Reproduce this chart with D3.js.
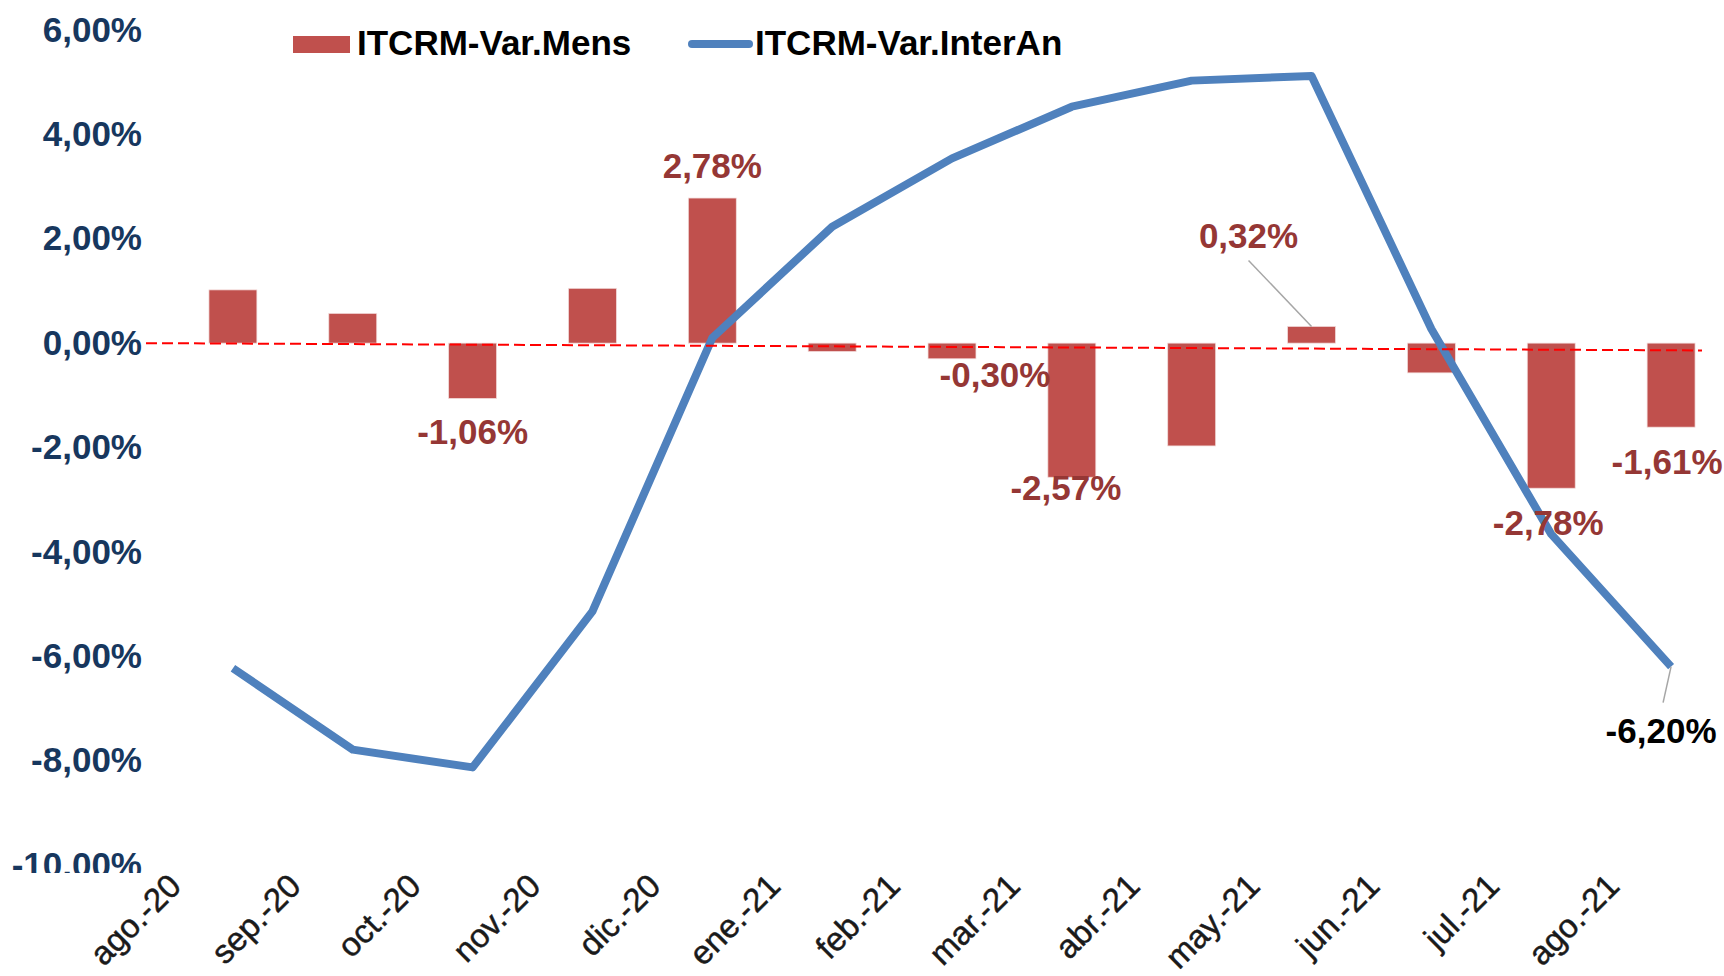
<!DOCTYPE html>
<html>
<head>
<meta charset="utf-8">
<script src="https://cdn.jsdelivr.net/npm/d3@7"></script>
<style>
  html, body { margin: 0; padding: 0; background: #fff; }
  svg { display: block; font-family: "Liberation Sans", Arial, sans-serif; }
</style>
</head>
<body>
<div id="chart"></div>
<script>
const months = ['ago.-20', 'sep.-20', 'oct.-20', 'nov.-20', 'dic.-20', 'ene.-21', 'feb.-21',
  'mar.-21', 'abr.-21', 'may.-21', 'jun.-21', 'jul.-21', 'ago.-21'];
const varMens = [1.02, 0.57, -1.06, 1.05, 2.78, -0.16, -0.30, -2.57, -1.97, 0.32, -0.57, -2.78, -1.61];
const varInterAn = [-6.23, -7.79, -8.13, -5.14, 0.10, 2.23, 3.54, 4.53, 5.03, 5.12, 0.27, -3.66, -6.20];
const yTicks = [6, 4, 2, 0, -2, -4, -6, -8, -10];
const refLine = [0.0, -0.14];           // red dashed reference, start / end value
const seriesNames = ['ITCRM-Var.Mens', 'ITCRM-Var.InterAn'];

// which bars carry a value label, and where it sits relative to the bar end
const barLabels = [
  {i: 2, dx: 0, dy: 46},
  {i: 4, dx: 0, dy: -20},
  {i: 6, dx: 43, dy: 28},
  {i: 7, dx: -6, dy: 23},
  {i: 9, dx: -63, dy: -78, leader: true},
  {i: 11, dx: -3, dy: 47},
  {i: 12, dx: -4, dy: 47},
];
const lineLabels = [{i: 12, dx: -10, dy: 76, leader: true}];

const W = 1724, H = 976;
const colBar = '#C0504D', colLine = '#4F81BD', colBarLbl = '#953735', colAxis = '#17375E';

const loc = d3.formatLocale({decimal: ',', thousands: '.', grouping: [3], currency: ['', ''], minus: '-'});
const pct = v => loc.format('.2f')(v) + '%';

const svg = d3.select('#chart').append('svg')
  .attr('width', W)
  .attr('height', H);

const x = d3.scaleBand()
  .domain(months)
  .range([173, 1731])
  .paddingInner(0.6)
  .paddingOuter(0.3);

const y = d3.scaleLinear()
  .domain([-10, 6])
  .range([865, 30]);

const step = x.step();
const cx = m => x(m) + x.bandwidth() / 2;

svg.append('clipPath').attr('id', 'clip')
  .append('rect').attr('x', 0).attr('y', 0).attr('width', W).attr('height', 873);

// y axis
const yAxis = svg.append('g')
  .attr('clip-path', 'url(#clip)')
  .append('g')
  .attr('transform', 'translate(142,0)')
  .call(d3.axisLeft(y).tickValues(yTicks).tickSize(0).tickPadding(0).tickFormat(pct));
yAxis.select('.domain').remove();
yAxis.selectAll('text')
  .attr('fill', colAxis)
  .style('font-family', '"Liberation Sans", Arial, sans-serif')
  .style('font-size', '35px')
  .style('font-weight', 'bold');

// x labels, rotated
svg.append('g').selectAll('text')
  .data(months)
  .enter().append('text')
    .attr('transform', d => `translate(${cx(d) - step / 2 + 10},888) rotate(-45)`)
    .attr('text-anchor', 'end')
    .style('font-size', '33px')
    .attr('fill', '#1a1a1a')
    .attr('stroke', '#1a1a1a')
    .attr('stroke-width', 0.5)
    .text(d => d);

// bars
svg.append('g').selectAll('rect')
  .data(varMens)
  .enter().append('rect')
    .attr('x', (d, i) => x(months[i]))
    .attr('y', d => y(Math.max(0, d)))
    .attr('width', x.bandwidth())
    .attr('height', d => Math.abs(y(d) - y(0)))
    .attr('fill', colBar)
    .attr('stroke', '#F2DCDB')
    .attr('stroke-width', 0.75);

// interannual line
const line = d3.line()
  .x((d, i) => cx(months[i]))
  .y(d => y(d));

svg.append('path')
  .datum(varInterAn)
  .attr('d', line)
  .attr('fill', 'none')
  .attr('stroke', colLine)
  .attr('stroke-width', 8)
  .attr('stroke-linejoin', 'round');

// red dashed reference line
svg.append('line')
  .attr('x1', x.range()[0] - 27)
  .attr('x2', x.range()[1] - 29)
  .attr('y1', y(refLine[0]))
  .attr('y2', y(refLine[1]))
  .attr('stroke', '#FF0000')
  .attr('stroke-width', 2)
  .attr('stroke-dasharray', '11,5');

// bar value labels
const lbl = svg.append('g');
barLabels.forEach(b => {
  const bx = cx(months[b.i]);
  const by = y(varMens[b.i]);
  if (b.leader) {
    lbl.append('line')
      .attr('x1', bx + b.dx).attr('y1', by + b.dy + 12)
      .attr('x2', bx).attr('y2', by)
      .attr('stroke', '#A6A6A6').attr('stroke-width', 1.5);
  }
  lbl.append('text')
    .attr('x', bx + b.dx)
    .attr('y', by + b.dy)
    .attr('text-anchor', 'middle')
    .attr('fill', colBarLbl)
    .style('font-size', '35px')
    .style('font-weight', 'bold')
    .text(pct(varMens[b.i]));
});

lineLabels.forEach(b => {
  const px = cx(months[b.i]);
  const py = y(varInterAn[b.i]);
  if (b.leader) {
    lbl.append('line')
      .attr('x1', px).attr('y1', py)
      .attr('x2', px - 8).attr('y2', py + 36)
      .attr('stroke', '#A6A6A6').attr('stroke-width', 1.5);
  }
  lbl.append('text')
    .attr('x', px + b.dx)
    .attr('y', py + b.dy)
    .attr('text-anchor', 'middle')
    .attr('fill', '#000')
    .style('font-size', '35px')
    .style('font-weight', 'bold')
    .text(pct(varInterAn[b.i]));
});

// legend
const leg = svg.append('g');
leg.append('rect')
  .attr('x', 293).attr('y', 36).attr('width', 57).attr('height', 17)
  .attr('fill', colBar);
leg.append('text')
  .attr('x', 357).attr('y', 55)
  .style('font-size', '35px').style('font-weight', 'bold')
  .text(seriesNames[0]);
leg.append('line')
  .attr('x1', 692).attr('x2', 749).attr('y1', 44).attr('y2', 44)
  .attr('stroke', colLine).attr('stroke-width', 8).attr('stroke-linecap', 'round');
leg.append('text')
  .attr('x', 755).attr('y', 55)
  .style('font-size', '35px').style('font-weight', 'bold')
  .text(seriesNames[1]);
</script>
</body>
</html>
